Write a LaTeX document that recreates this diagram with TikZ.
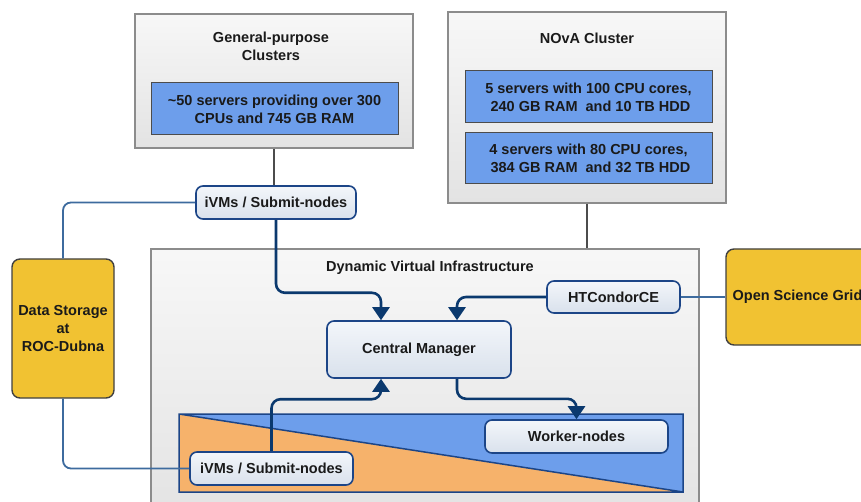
\documentclass[tikz,border=0pt]{standalone}
\usepackage{fontspec}
\setmainfont{Liberation Sans}
\usetikzlibrary{arrows.meta}
\definecolor{specblue}{HTML}{6D9EEB}
\definecolor{siteyellow}{HTML}{F1C232}
\definecolor{userorange}{HTML}{F6B26B}
\definecolor{unitedge}{HTML}{1C4587}
\definecolor{unittop}{HTML}{F3F6FA}
\definecolor{unitbot}{HTML}{D9E1EC}
\definecolor{flowblue}{HTML}{0B396E}
\definecolor{linkblue}{HTML}{3D6B9E}
\definecolor{inkgray}{HTML}{1A1A1A}

\begin{document}
\begin{tikzpicture}[x=1pt,y=-1pt,
  font=\fontsize{14.5}{18}\selectfont\bfseries,text=inkgray,
  cluster/.style={draw=black!45,line width=1.2pt,top color=black!3,bottom color=black!11,inner sep=0pt},
  heading/.style={align=center,inner sep=0pt},
  spec/.style={draw=black!70,line width=1pt,fill=specblue,align=center,inner sep=0pt},
  unit/.style={draw=unitedge,line width=1.6pt,rounded corners=7pt,top color=unittop,bottom color=unitbot,align=center,inner sep=0pt},
  site/.style={draw=black!75,line width=1.4pt,rounded corners=8pt,fill=siteyellow,align=center,inner sep=0pt},
  flow/.style={draw=flowblue,line width=2.6pt,rounded corners=9pt,-{Triangle[width=17pt,length=13pt]}},
  link/.style={draw=linkblue,line width=1.8pt,rounded corners=8pt},
  feed/.style={draw=black!70,line width=1.6pt}]
  \clip (0,0) rectangle (861,502);

  % clusters
  \node[cluster,minimum width=278pt,minimum height=134pt] (gp) at (274,81) {};
  \node[heading] (gptitle) at (271,46) {General-purpose\\Clusters};
  \node[spec,minimum width=247pt,minimum height=52pt] (gpspec) at (274.5,109)
    {\textasciitilde50 servers providing over 300\\CPUs and 745 GB RAM};
  \node[cluster,minimum width=278pt,minimum height=191pt] (nova) at (587,107.5) {};
  \node[heading] (novatitle) at (587,38) {NOvA Cluster};
  \node[spec,minimum width=247pt,minimum height=52pt] (novaspecA) at (588.5,97)
    {5 servers with 100 CPU cores,\\\ 240 GB RAM\ \ and 10 TB HDD};
  \node[spec,minimum width=247pt,minimum height=51pt] (novaspecB) at (588.5,158.5)
    {4 servers with 80 CPU cores,\\\ 384 GB RAM\ \ and 32 TB HDD};

  % dynamic infrastructure
  \node[cluster,minimum width=548pt,minimum height=271pt] (dvi) at (425,384.5) {};
  \node[heading] (dvititle) at (430,268) {Dynamic Virtual Infrastructure};
  \fill[specblue] (179,414) -- (683,414) -- (683,492) -- cycle;
  \fill[userorange] (179,414) -- (683,492) -- (179,492) -- cycle;
  \draw[unitedge,line width=1.5pt] (179,414) rectangle (683,492) (179,414) -- (683,492);

  % nodes
  \node[unit,minimum width=160pt,minimum height=33pt] (ivmtop) at (276,202.5) {iVMs / Submit-nodes};
  \node[site,minimum width=102pt,minimum height=139pt] (ds) at (63,328.5) {Data Storage\\at\\ROC-Dubna};
  \node[unit,minimum width=184pt,minimum height=57pt] (cm) at (419,349.5) {Central Manager};
  \node[unit,minimum width=133pt,minimum height=32pt] (htc) at (613.5,297) {HTCondorCE};
  \node[site,minimum width=143pt,minimum height=96pt] (osg) at (797.5,297) {Open Science Grid};
  \node[unit,minimum width=183pt,minimum height=33pt] (worker) at (576.5,436.5) {Worker-nodes};
  \node[unit,minimum width=163pt,minimum height=33pt] (ivmlow) at (271.5,468.5) {iVMs / Submit-nodes};

  % connectors
  \draw[feed] (gp.south) -- (gp.south |- ivmtop.north);
  \draw[feed] (nova.south) -- (nova.south |- dvi.north);
  \draw[link] (ivmtop.west) -| (ds.north);
  \draw[link] (ds.south) |- (ivmlow.west);
  \draw[link] (htc.east) -- (osg.west);
  \draw[flow] (ivmtop.south) -- ++(0,73) -| ([xshift=-38pt]cm.north);
  \draw[flow] (htc.west) -| ([xshift=38pt]cm.north);
  \draw[flow] (ivmlow.north) -- ++(0,-52) -| ([xshift=-38pt]cm.south);
  \draw[flow] ([xshift=38pt]cm.south) -- ++(0,20) -| (worker.north);
\end{tikzpicture}
\end{document}
